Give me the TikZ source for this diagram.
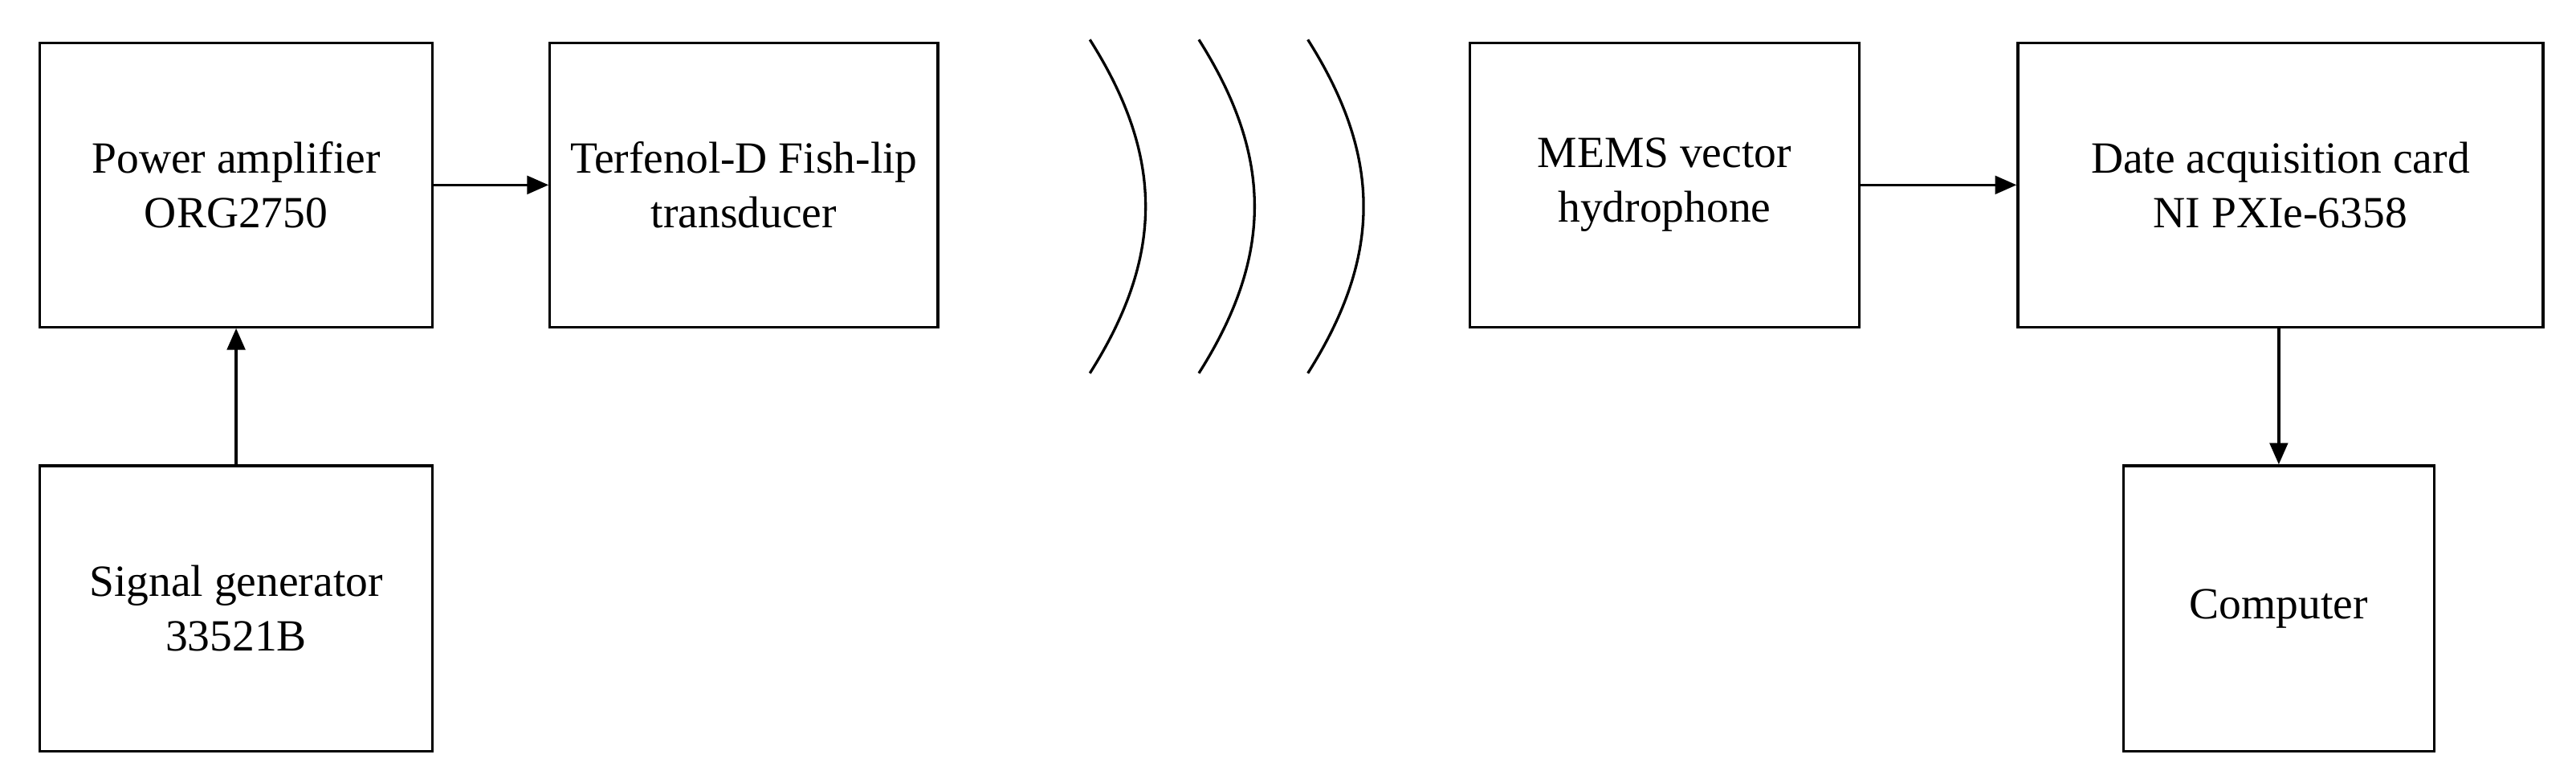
\documentclass[tikz,border=0pt]{standalone}
\usepackage{fontspec}
\setmainfont{Liberation Serif}
\usetikzlibrary{arrows.meta}
\begin{document}
\begin{tikzpicture}[x=1pt,y=-1pt,
  box/.style={draw,line width=1.6pt,align=center,inner sep=0pt,font=\fontsize{27}{33}\selectfont},
  arr/.style={line width=1.6pt,-{Triangle[length=13pt,width=11pt]}},
  wave/.style={line width=1.6pt}]
\useasboundingbox (0,0) rectangle (1560,474);
\node[box,minimum width=238pt,minimum height=172pt] (pa) at (143,112) {Power amplifier\\ORG2750};
\node[box,minimum width=235pt,minimum height=172pt] (tf) at (450.5,112) {Terfenol-D Fish-lip\\transducer};
\node[box,minimum width=236pt,minimum height=172pt] (mm) at (1008,112) {MEMS vector\\hydrophone};
\node[box,minimum width=318pt,minimum height=172pt] (dq) at (1381,112) {Date acquisition card\\NI PXIe-6358};
\node[box,minimum width=238pt,minimum height=173pt] (sg) at (143,368.5) {Signal generator\\33521B};
\node[box,minimum width=188pt,minimum height=173pt] (pc) at (1380,368.5) {Computer};
\draw[arr] (pa.east) -- (tf.west);
\draw[arr] (mm.east) -- (dq.west);
\draw[arr] (sg.north) -- (pa.south);
\draw[arr] (pc.north |- dq.south) -- (pc.north);
\foreach \x in {660,726,792}{
  \draw[wave] (\x,24) .. controls (\x+45,95) and (\x+45,155) .. (\x,226);
}
\end{tikzpicture}
\end{document}
